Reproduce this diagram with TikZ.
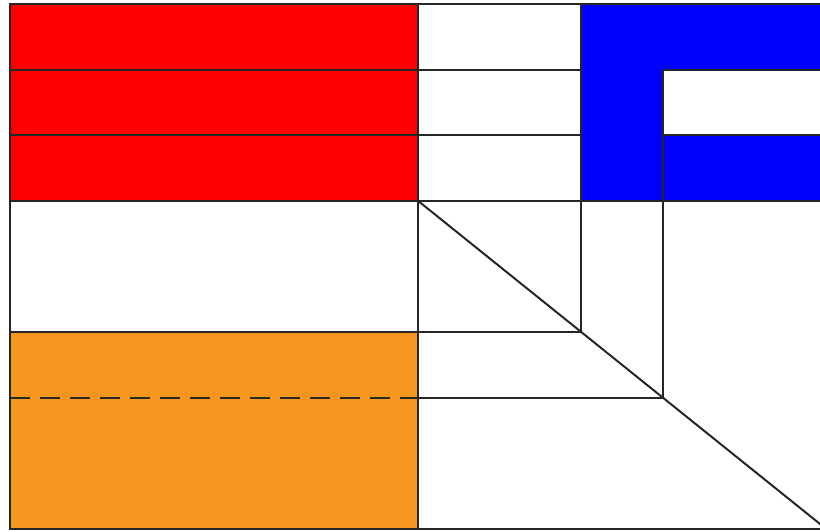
\documentclass[tikz,border=0pt]{standalone}
\usetikzlibrary{positioning}
\definecolor{flagred}{RGB}{255,0,0}
\definecolor{flagblue}{RGB}{0,0,255}
\definecolor{flagorange}{RGB}{247,150,30}
\begin{document}
\begin{tikzpicture}[x=81.6pt,y=-65.6pt,line width=2pt,color=black!85,
 fold line/.style={dash pattern=on 20pt off 10pt}]
\clip (-0.1225,-0.061) rectangle (9.926,8.034);
\fill[white] (-0.2,-0.1) rectangle (10.1,8.1);
% coloured panels
\fill[flagred] (0,0) rectangle (5,3);
\fill[flagorange] (0,5) rectangle (5,8);
\fill[flagblue] (7,0) rectangle (10,3);
\fill[white] (8,1) rectangle (10,2);
% grid lines
\coordinate (corner) at (5,3);
\coordinate (far) at (10,8);
\draw (0,0) rectangle (10,8);
\draw (0,1) -- (7,1) (8,1) -- (10,1);
\draw (0,2) -- (7,2) (8,2) -- (10,2);
\draw (0,3) -- (10,3);
\draw (0,5) -- (7,5);
\draw[fold line] (0,6) -- (5,6);
\draw (5,6) -- (8,6);
\draw (5,0) -- (5,8);
\draw (7,0) -- (7,5);
\draw (8,1) -- (8,6);
\draw (corner) -- (far);
\end{tikzpicture}
\end{document}
